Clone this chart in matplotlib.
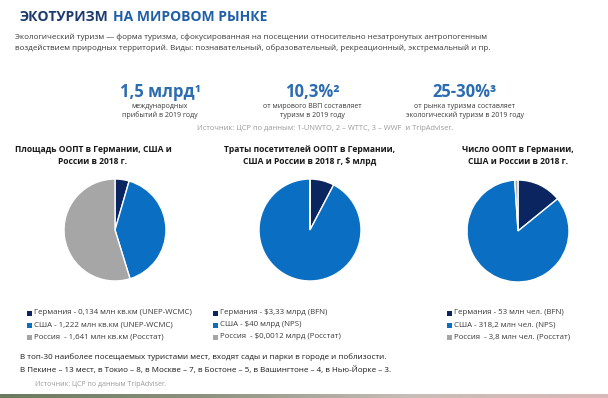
import matplotlib
matplotlib.use("Agg")
import matplotlib.pyplot as plt
from matplotlib.patches import Rectangle
import numpy as np

plt.rcParams['font.family'] = ['Open Sans', 'DejaVu Sans']

W, H = 608, 398

title_a = "ЭКОТУРИЗМ"
title_b = "НА МИРОВОМ РЫНКЕ"
intro = ["Экологический туризм — форма туризма, сфокусированная на посещении относительно незатронутых антропогенным",
         "воздействием природных территорий. Виды: познавательный, образовательный, рекреационный, экстремальный и пр."]
kpi_values = ["1,5 млрд¹", "10,3%²", "25-30%³"]
kpi_texts = [["международных", "прибытий в 2019 году"],
             ["от мирового ВВП составляет", "туризм в 2019 году"],
             ["от рынка туризма составляет", "экологический туризм в 2019 году"]]
kpi_source = "Источник: ЦСР по данным: 1-UNWTO, 2 – WTTC, 3 – WWF  и TripAdviser."

countries = ["Германия", "США", "Россия"]
pie_titles = [["Площадь ООПТ в Германии, США и", "России в 2018 г."],
              ["Траты посетителей ООПТ в Германии,", "США и России в 2018 г, $ млрд"],
              ["Число ООПТ в Германии,", "США и России в 2018 г."]]
area_mln_km2 = [0.134, 1.222, 1.641]
spend_bln_usd = [3.33, 40.0, 0.0012]
visitors_mln = [53.0, 318.2, 3.8]
legend_labels = [
    ["Германия - 0,134 млн кв.км (UNEP-WCMC)", "США - 1,222 млн кв.км (UNEP-WCMC)", "Россия  - 1,641 млн кв.км (Росстат)"],
    ["Германия - $3,33 млрд (BFN)", "США - $40 млрд (NPS)", "Россия  - $0,0012 млрд (Росстат)"],
    ["Германия - 53 млн чел. (BFN)", "США - 318,2 млн чел. (NPS)", "Россия  - 3,8 млн чел. (Росстат)"],
]
footer = ["В топ-30 наиболее посещаемых туристами мест, входят сады и парки в городе и поблизости.",
          "В Пекине – 13 мест, в Токио – 8, в Москве – 7, в Бостоне – 5, в Вашингтоне – 4, в Нью-Йорке – 3."]
footer_source = "Источник: ЦСР по данным TripAdviser."

colors = ["#0b2560", "#0a6fc2", "#a6a6a6"]
navy = "#1d3a6e"
blue_kpi = "#2c6cb0"
textgray = "#3a3a3a"
lightgray = "#9a9a9a"

fig = plt.figure(figsize=(W / 100, H / 100), dpi=100)
fig.patch.set_facecolor("white")

def T(x, y, s, **kw):
    return fig.text(x / W, 1 - y / H, s, **kw)

# Title
t1 = T(20, 17, title_a, fontsize=10, fontweight="bold", color=navy, va="center", ha="left")
fig.canvas.draw()
bb = t1.get_window_extent()
T(bb.x1 + 4, 17, title_b, fontsize=10, fontweight="bold", color="#1f5fa8", va="center", ha="left")

for i, line in enumerate(intro):
    T(15, 37 + 11 * i, line, fontsize=5.8, color=textgray, va="center", ha="left")

kpi_x = [160, 312, 465]
for x, v, lines in zip(kpi_x, kpi_values, kpi_texts):
    T(x, 92, v, fontsize=12, fontweight="bold", color=blue_kpi, va="center", ha="center")
    for j, l in enumerate(lines):
        T(x, 106 + 9.5 * j, l, fontsize=5.0, color=textgray, va="center", ha="center")
T(325, 129, kpi_source, fontsize=5.4, color=lightgray, va="center", ha="center")

pie_centers = [(115, 230), (310, 230), (518, 231)]
R = 52
title_x = [93, 310, 518]
datas = [area_mln_km2, spend_bln_usd, visitors_mln]
for k, ((cx, cy), data) in enumerate(zip(pie_centers, datas)):
    ax = fig.add_axes([(cx - R) / W, (H - cy - R) / H, 2 * R / W, 2 * R / H])
    ax.pie(data, colors=colors, startangle=90, counterclock=False,
           wedgeprops=dict(edgecolor="white", linewidth=1.0))
    ax.set_xlim(-1.02, 1.02)
    ax.set_ylim(-1.02, 1.02)
    ax.set_aspect("equal")
    ax.axis("off")
    for j, l in enumerate(pie_titles[k]):
        T(title_x[k], 149 + 13 * j, l, fontsize=6.1, fontweight="bold", color="#1a1a1a", va="center", ha="center")

leg_x = [27, 213, 447]
for k in range(3):
    for j, lab in enumerate(legend_labels[k]):
        y = 313 + 12 * j
        fig.patches.append(Rectangle(((leg_x[k]) / W, 1 - (y + 2.5) / H), 4.5 / W, 4.5 / H,
                                     transform=fig.transFigure, facecolor=colors[j], edgecolor="none"))
        T(leg_x[k] + 7, y, lab, fontsize=5.7, color=textgray, va="center", ha="left")

for i, line in enumerate(footer):
    T(20, 357 + 12 * i, line, fontsize=5.8, color="#1a1a1a", va="center", ha="left")
T(35, 384, footer_source, fontsize=5.0, color=lightgray, va="center", ha="left")

# decorative photo strip at the bottom
strip = fig.add_axes([0, 0, 1, 4 / H])
grad = np.linspace(0, 1, 256)
cols = np.array([[0.42, 0.48, 0.36], [0.55, 0.57, 0.5], [0.78, 0.74, 0.72], [0.85, 0.72, 0.72]])
xs = np.linspace(0, 1, len(cols))
img = np.stack([np.interp(grad, xs, cols[:, c]) for c in range(3)], axis=-1)[None, :, :]
strip.imshow(img, aspect="auto", extent=[0, 1, 0, 1])
strip.axis("off")

fig.savefig("out.png", dpi=100, facecolor="white")
